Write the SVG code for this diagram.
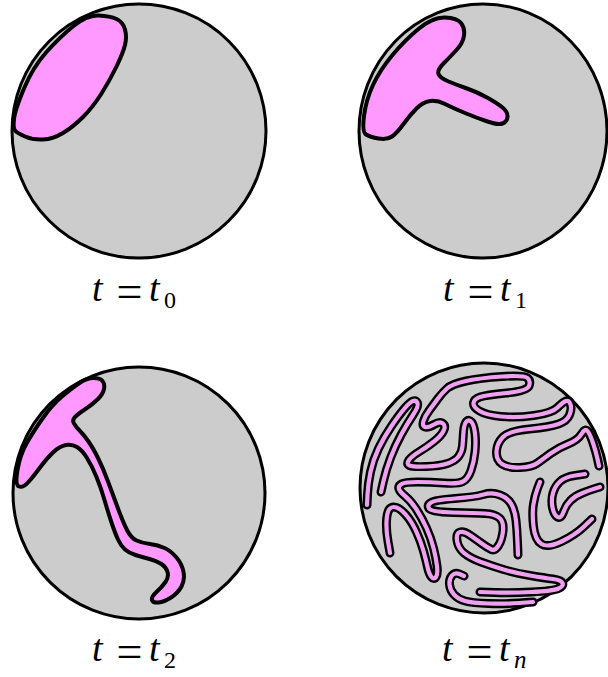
<svg xmlns="http://www.w3.org/2000/svg" width="608" height="677" viewBox="0 0 608 677">
<style>
.bg{fill:#ffffff}
.disk{fill:#cccccc;stroke:#000;stroke-width:3}
.blob{fill:#ff99ff;stroke:#000;stroke-width:4;stroke-linejoin:round}
.wo{fill:none;stroke:#000;stroke-width:9;stroke-linecap:round;stroke-linejoin:round}
.wi{fill:none;stroke:#f0a0f0;stroke-width:4.2;stroke-linecap:round;stroke-linejoin:round}
.lab{font-family:"Liberation Serif","DejaVu Serif",serif;font-size:38px;fill:#000}
.it{font-style:italic}
.eq{font-size:46px;font-style:normal}
.sub{font-size:24px;font-style:normal}
.subi{font-size:25px;font-style:italic}
</style>
<defs>
<path id="wA" d="M390,553 L388,541.5 Q386,530 386.5,521 Q387,512 389.5,509 Q392,506 396.5,507.5 Q401,509 406.5,515.5 Q412,522 416.5,532 Q421,542 423.5,551 Q426,560 427.5,567 Q429,574 431.5,577 Q434,580 436,577 Q438,574 437,566 Q436,558 433.5,548 Q431,538 426.5,528 Q422,518 416.5,509.5 Q411,501 405.5,496.5 Q400,492 399,489 Q398,486 401.5,484 Q405,482 417.5,482 Q430,482 444,483 Q458,484 463,481.5 Q468,479 471,470.5 Q474,462 475,452 Q476,442 475,433.5 Q474,425 471.5,422 Q469,419 466.5,421.5 Q464,424 463.5,432 Q463,440 462.5,446 Q462,452 458.5,456.5 Q455,461 447.5,463.5 Q440,466 426.5,466.5 Q413,467 409.5,465.5 Q406,464 409,460 Q412,456 419.5,451.5 Q427,447 434,441.5 Q441,436 443.5,431 Q446,426 443,423.5 Q440,421 434,424.5 Q428,428 425,427 Q422,426 423.5,421 Q425,416 429.5,410 Q434,404 438,398.5 Q442,393 447,388.5 Q452,384 466,381 Q480,378 502,376.5 Q524,375 527.5,378 Q531,381 529,386 Q527,391 506.5,393 Q486,395 480,397 Q474,399 473.5,403 Q473,407 479.5,411 Q486,415 501,416.5 Q516,418 534,415.5 Q552,413 557.5,407.5 Q563,402 566,401 Q569,400 570.5,404.5 Q572,409 569.5,415 Q567,421 558.5,424 Q550,427 529.5,429 Q509,431 503,437 Q497,443 496.5,451.5 Q496,460 502,464 Q508,468 520,467.5 Q532,467 537.5,463 Q543,459 550.5,453.5 Q558,448 568,444 Q578,440 581.5,434 Q585,428 587.5,431 Q590,434 593,443 Q596,452 597.5,459 L599,466"/>
<path id="wB" d="M540,482 L537.5,488.5 Q535,495 533.5,504 Q532,513 533.5,526.5 Q535,540 541.5,544 Q548,548 561.5,541.5 Q575,535 583.5,527 L592,519"/>
<path id="wC" d="M600,487 L595,488.5 Q590,490 582.5,493 Q575,496 570.5,500.5 Q566,505 563.5,512 Q561,519 557.5,517 Q554,515 552.5,507.5 Q551,500 553,493 Q555,486 560,481.5 Q565,477 575,475.5 L585,474"/>
<path id="wD" d="M518,555 L517.5,542.5 Q517,530 516,520.5 Q515,511 511.5,504.5 Q508,498 500,495 Q492,492 483.5,494.5 Q475,497 455,498.5 Q435,500 431,502.5 Q427,505 429,508.5 Q431,512 453,512.5 Q475,513 485,513.5 Q495,514 499.5,518 Q504,522 503,531 Q502,540 498.5,545.5 Q495,551 491.5,549.5 Q488,548 482.5,544 Q477,540 470.5,535.5 Q464,531 460,532 Q456,533 457,540.5 Q458,548 464,553 Q470,558 481,562 Q492,566 503.5,569.5 Q515,573 530,575.5 Q545,578 553,579 Q561,580 562.5,583 Q564,586 558.5,588.5 Q553,591 531.5,592 Q510,593 495,592.5 L480,592"/>
<path id="wE" d="M533,602 L519,603 Q505,604 488.5,603.5 Q472,603 465,601 Q458,599 454,594.5 Q450,590 449.5,584.5 Q449,579 452,575.5 Q455,572 459.5,574 L464,576"/>
<path id="wF" d="M367,505 L367.5,494.5 Q368,484 370.5,472 Q373,460 378.5,448.5 Q384,437 391.5,426 Q399,415 404.5,408.5 Q410,402 413,401 Q416,400 417.5,403 Q419,406 413,415 Q407,424 401,435 Q395,446 390.5,458 Q386,470 383.5,481 L381,492"/>
</defs>
<rect class="bg" x="0" y="0" width="608" height="677"/>

<g id="panel-t0">
<circle class="disk" cx="139" cy="131" r="127"/>
<path class="blob" d="M14,119 Q15,110 24,88.5 Q33,67 46.5,52 Q60,37 73.5,26 Q87,15 98.5,15.5 Q110,16 116.5,19 Q123,22 125,29.5 Q127,37 125,45 Q123,53 116.5,66.5 Q110,80 101.5,93.5 Q93,107 83,117 Q73,127 63,133 Q53,139 43,139.5 Q33,140 25,136.5 Q17,133 15,130.5 Q13,128 14,119 Z"/>
<text class="lab" y="301"><tspan x="92" class="it">t</tspan><tspan x="116.5" y="306.5" class="eq">=</tspan><tspan x="149" y="301" class="it">t</tspan><tspan x="164" y="308" class="sub">0</tspan></text>
</g>

<g id="panel-t1">
<ellipse class="disk" cx="483" cy="131" rx="124" ry="127"/>
<path class="blob" d="M364,116 Q366,100 373,85 Q380,70 392.5,55 Q405,40 419,28.5 Q433,17 445,17.5 Q457,18 461,23 Q465,28 464,35.5 Q463,43 456.5,50 Q450,57 443.5,63.5 Q437,70 438.5,74 Q440,78 448.5,81.5 Q457,85 467,88.5 Q477,92 487,97.5 Q497,103 502.5,107.5 Q508,112 507.5,117 Q507,122 502.5,123.5 Q498,125 487.5,121.5 Q477,118 465,113 Q453,108 445,104 Q437,100 430,101 Q423,102 416.5,108.5 Q410,115 403.5,124 Q397,133 392,136.5 Q387,140 378.5,138.5 Q370,137 366,134.5 Q362,132 364,116 Z"/>
<text class="lab" y="301"><tspan x="443" class="it">t</tspan><tspan x="467.5" y="306.5" class="eq">=</tspan><tspan x="500" y="301" class="it">t</tspan><tspan x="515" y="308" class="sub">1</tspan></text>
</g>

<g id="panel-t2">
<circle class="disk" cx="139" cy="493" r="126"/>
<path class="blob" d="M17.5,470 Q20,455 26.5,443.5 Q33,432 42.5,418.5 Q52,405 62,396.5 Q72,388 79.5,383 Q87,378 93.5,378 Q100,378 102.5,381 Q105,384 104,389 Q103,394 98,399 Q93,404 85.5,409 Q78,414 75,417 Q72,420 74,423.5 Q76,427 80,431 Q84,435 88.5,441.5 Q93,448 98,458 Q103,468 108,481.5 Q113,495 118,508.5 Q123,522 127,530 Q131,538 136.5,540.5 Q142,543 150,544 Q158,545 164.5,548 Q171,551 176.5,557.5 Q182,564 183.5,572 Q185,580 181.5,586.5 Q178,593 171,597.5 Q164,602 158.5,602.5 Q153,603 152,600 Q151,597 156.5,592 Q162,587 165.5,582 Q169,577 167.5,572 Q166,567 161.5,564 Q157,561 149.5,559 Q142,557 135.5,555 Q129,553 125,549.5 Q121,546 118,539.5 Q115,533 111.5,522.5 Q108,512 104.5,500 Q101,488 96.5,477 Q92,466 87,458 Q82,450 77,447 Q72,444 66,445 Q60,446 53.5,452 Q47,458 40,467.5 Q33,477 28,482.5 Q23,488 19,486.5 Q15,485 17.5,470 Z"/>
<text class="lab" y="661"><tspan x="92" class="it">t</tspan><tspan x="116.5" y="666.5" class="eq">=</tspan><tspan x="149" y="661" class="it">t</tspan><tspan x="164" y="668" class="sub">2</tspan></text>
</g>

<g id="panel-tn">
<ellipse class="disk" cx="484" cy="488" rx="124" ry="125"/>
<g id="worms-outline">
<use href="#wA" class="wo"/><use href="#wB" class="wo"/><use href="#wC" class="wo"/><use href="#wD" class="wo"/><use href="#wE" class="wo"/><use href="#wF" class="wo"/>
</g>
<g id="worms-fill">
<use href="#wA" class="wi"/><use href="#wB" class="wi"/><use href="#wC" class="wi"/><use href="#wD" class="wi"/><use href="#wE" class="wi"/><use href="#wF" class="wi"/>
</g>
<text class="lab" y="661"><tspan x="442" class="it">t</tspan><tspan x="466.5" y="666.5" class="eq">=</tspan><tspan x="499" y="661" class="it">t</tspan><tspan x="514" y="668" class="subi">n</tspan></text>
</g>
</svg>
